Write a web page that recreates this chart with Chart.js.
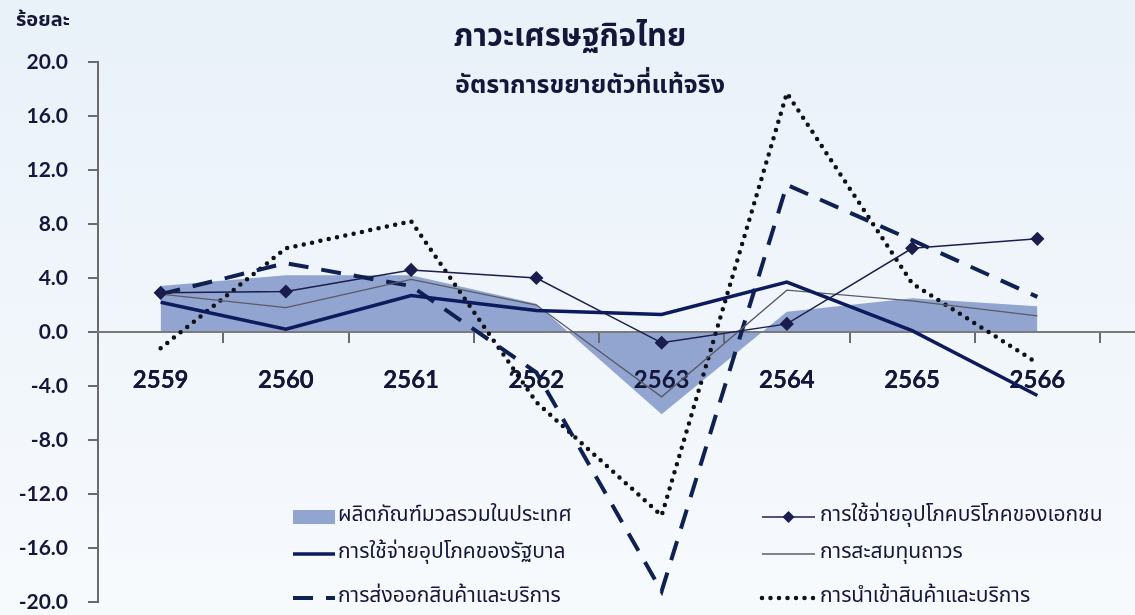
<!DOCTYPE html>
<html>
<head>
<meta charset="utf-8">
<script src="https://cdn.jsdelivr.net/npm/chart.js@4/dist/chart.umd.min.js"></script>
<style>
  html, body { margin: 0; padding: 0; background: #eef4fa; }
  #wrap { width: 1135px; height: 615px; }
</style>
</head>
<body>
<div id="wrap"><canvas id="myChart" width="1135" height="615"></canvas></div>
<script>
// ข้อมูล (ร้อยละ)
const years = ['2559', '2560', '2561', '2562', '2563', '2564', '2565', '2566'];
const gdp     = [3.4, 4.2, 4.2, 2.1, -6.1, 1.5, 2.5, 1.9];
const privCons = [2.9, 3.0, 4.6, 4.0, -0.8, 0.6, 6.2, 6.9];
const govCons = [2.2, 0.2, 2.7, 1.6, 1.3, 3.7, 0.1, -4.7];
const gfcf    = [2.8, 1.8, 3.9, 2.0, -4.8, 3.1, 2.3, 1.2];
const exports = [2.8, 5.1, 3.4, -3.0, -19.2, 10.9, 6.8, 2.6];
const imports = [-1.2, 6.2, 8.2, -5.2, -13.6, 17.7, 3.6, -2.3];
const yTicks  = [-20, -16, -12, -8, -4, 0, 4, 8, 12, 16, 20];

const navy = '#0e1a5e';
const ink = '#14163a';
const thaiFont = "'Noto Sans Thai', 'Tahoma', 'Noto Sans', sans-serif";

const bgPlugin = {
  id: 'bg',
  beforeDraw(chart) {
    const c = chart.ctx;
    const g = c.createLinearGradient(0, 0, 0, chart.height);
    g.addColorStop(0, '#e9f1f9');
    g.addColorStop(1, '#f7fafd');
    c.save();
    c.fillStyle = g;
    c.fillRect(0, 0, chart.width, chart.height);
    c.restore();
  },
  // ป้ายปีทับพื้นที่ GDP แต่อยู่ใต้เส้นอื่น
  afterDatasetDraw(chart, args) {
    if (args.index !== 0) return;
    const x = chart.scales.x;
    x.draw(chart.chartArea);
    // เส้นแกนศูนย์ยาวถึงขอบขวา
    const y0 = chart.scales.y.getPixelForValue(0);
    const c = chart.ctx;
    c.save();
    c.strokeStyle = '#7a7a7a';
    c.lineWidth = 2;
    c.beginPath();
    c.moveTo(chart.chartArea.right, y0);
    c.lineTo(chart.width, y0);
    c.stroke();
    c.restore();
  }
};

// ชื่อกราฟ + หน่วย + คำอธิบายสัญลักษณ์
const textPlugin = {
  id: 'texts',
  afterDraw(chart) {
    const c = chart.ctx;
    c.save();
    c.fillStyle = ink;
    c.textBaseline = 'middle';
    c.textAlign = 'center';
    c.font = 'bold 31px ' + thaiFont;
    c.fillText('ภาวะเศรษฐกิจไทย', 570, 40);
    c.font = 'bold 25px ' + thaiFont;
    c.fillText('อัตราการขยายตัวที่แท้จริง', 590, 88);
    c.textAlign = 'left';
    c.font = 'bold 20px ' + thaiFont;
    c.fillText('ร้อยละ', 16, 22);

    const ds = chart.data.datasets;
    const rows = [517, 554, 598];
    const left = [0, 2, 4], right = [1, 3, 5];
    c.font = '21px ' + thaiFont;
    left.forEach((i, r) => drawItem(c, ds[i], 293, 335, rows[r], 338));
    right.forEach((i, r) => drawItem(c, ds[i], 762, 815, rows[r], 820));
    c.restore();
  }
};

function drawItem(c, d, x1, x2, y, tx) {
  c.save();
  if (d.fill) {
    c.fillStyle = d.backgroundColor;
    c.fillRect(x1, y - 7, x2 - x1, 14);
  } else {
    c.strokeStyle = d.borderColor;
    c.lineWidth = d.borderWidth;
    c.lineCap = d.borderCapStyle || 'butt';
    c.setLineDash(d.borderDash || []);
    c.beginPath();
    c.moveTo(x1, y);
    c.lineTo(x2, y);
    c.stroke();
    if (d.pointRadius > 0) {
      c.setLineDash([]);
      c.fillStyle = d.pointBackgroundColor;
      const m = (x1 + x2) / 2, r = d.pointRadius;
      c.beginPath();
      c.moveTo(m, y - r); c.lineTo(m + r, y); c.lineTo(m, y + r); c.lineTo(m - r, y);
      c.closePath();
      c.fill();
    }
  }
  c.restore();
  c.fillStyle = ink;
  c.fillText(d.label, tx, y);
}

const ctx = document.getElementById('myChart');

const data = {
  labels: years,
  datasets: [
    {
      label: 'ผลิตภัณฑ์มวลรวมในประเทศ',
      data: gdp,
      fill: 'origin',
      backgroundColor: 'rgba(128,150,200,0.85)',
      borderWidth: 0,
      borderColor: 'rgba(0,0,0,0)',
      pointRadius: 0,
      order: 10
    },
    {
      label: 'การใช้จ่ายอุปโภคบริโภคของเอกชน',
      data: privCons,
      borderColor: '#1a1d4e',
      borderWidth: 1.5,
      pointStyle: 'rectRot',
      pointRadius: 6,
      pointBackgroundColor: '#1a1d4e',
      pointBorderColor: '#1a1d4e',
      order: 1
    },
    {
      label: 'การใช้จ่ายอุปโภคของรัฐบาล',
      data: govCons,
      borderColor: navy,
      borderWidth: 3.5,
      pointRadius: 0,
      order: 2
    },
    {
      label: 'การสะสมทุนถาวร',
      data: gfcf,
      borderColor: '#5a5a66',
      borderWidth: 1.3,
      pointRadius: 0,
      order: 3
    },
    {
      label: 'การส่งออกสินค้าและบริการ',
      data: exports,
      borderColor: '#0f2152',
      borderWidth: 4,
      borderDash: [20, 13],
      pointRadius: 0,
      order: 4
    },
    {
      label: 'การนำเข้าสินค้าและบริการ',
      data: imports,
      borderColor: '#101018',
      borderWidth: 4.5,
      borderDash: [0, 8.5],
      borderCapStyle: 'round',
      pointRadius: 0,
      order: 5
    }
  ]
};

const config = {
  type: 'line',
  data: data,
  options: {
    responsive: false,
    animation: false,
    layout: { padding: { top: 62, right: 35, bottom: 13, left: 0 } },
    elements: { line: { tension: 0 } },
    plugins: {
      legend: { display: false },
      title: { display: false },
      tooltip: { enabled: false }
    },
    scales: {
      x: {
        type: 'category',
        position: { y: 0 },
        offset: true,
        afterFit(s) { s.height = 0; },
        grid: {
          offset: true,
          drawOnChartArea: false,
          drawTicks: true,
          tickLength: 10,
          color: '#6b6b6b',
          lineWidth: 2
        },
        border: { color: '#7a7a7a', width: 2 },
        ticks: {
          padding: 24,
          color: ink,
          font: { size: 24, weight: 'bold', family: 'Lato, sans-serif' }
        }
      },
      y: {
        min: -20,
        max: 20,
        afterFit(s) {
          s.width = 98;
          s.paddingTop = 0;
          s.paddingBottom = 0;
        },
        afterBuildTicks(s) { s.ticks = yTicks.map(v => ({ value: v })); },
        grid: {
          drawOnChartArea: false,
          drawTicks: true,
          tickLength: 10,
          color: '#6b6b6b',
          lineWidth: 2
        },
        border: { color: '#6b6b6b', width: 2 },
        ticks: {
          padding: 20,
          color: ink,
          callback: v => v.toFixed(1),
          font: { size: 21, weight: 'bold', family: 'Lato, sans-serif' }
        }
      }
    }
  },
  plugins: [bgPlugin, textPlugin]
};

const myChart = new Chart(ctx, config);
</script>
</body>
</html>
